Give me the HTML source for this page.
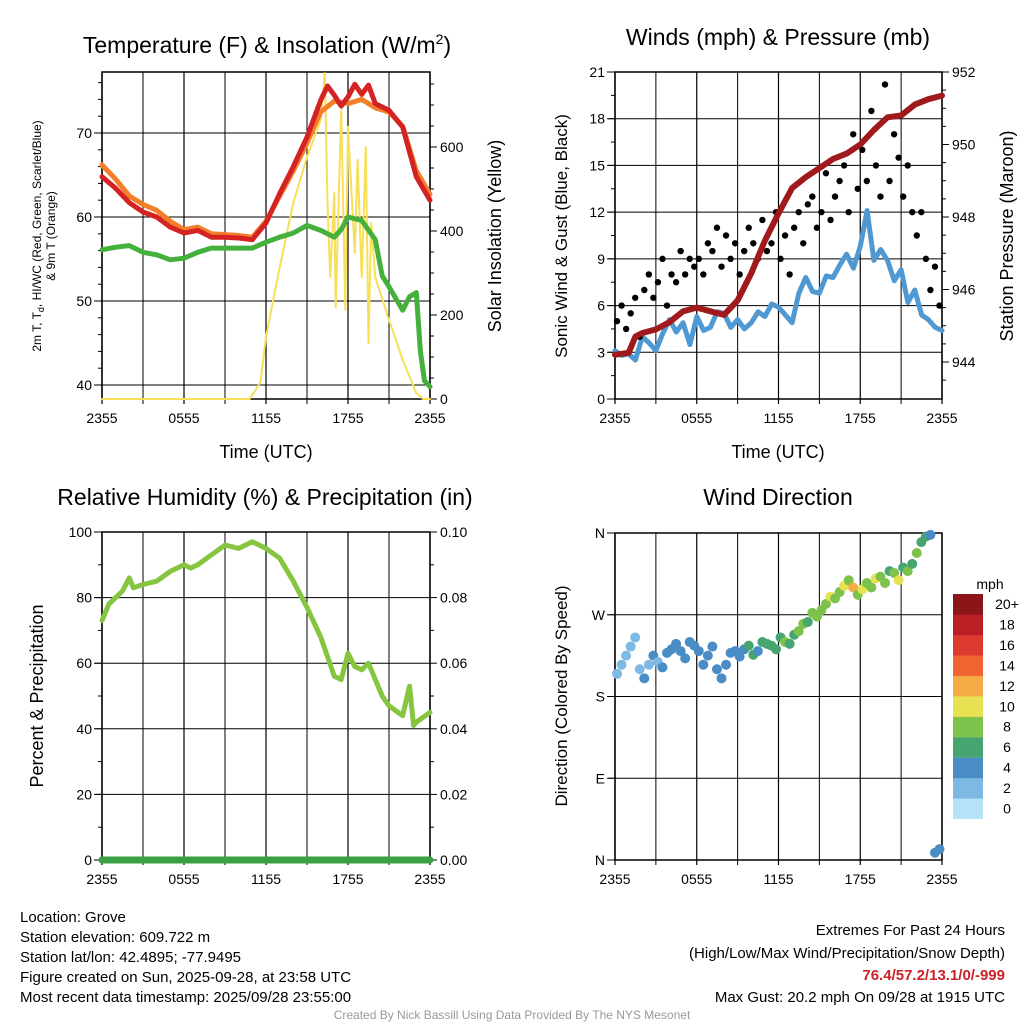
<!DOCTYPE html>
<html><head><meta charset="utf-8"><style>
body{margin:0;background:#fff;}
svg{font-family:"Liberation Sans",sans-serif;}
</style></head><body>
<svg id="c" width="1024" height="1024" viewBox="0 0 1024 1024" xmlns="http://www.w3.org/2000/svg">
<g font-size="23" text-anchor="middle">
<text x="267" y="53">Temperature (F) &amp; Insolation (W/m<tspan dy="-9" font-size="14">2</tspan><tspan dy="9">)</tspan></text>
<text x="778" y="45">Winds (mph) &amp; Pressure (mb)</text>
<text x="265" y="505">Relative Humidity (%) &amp; Precipitation (in)</text>
<text x="778" y="505">Wind Direction</text>
</g>
<g font-size="18" text-anchor="middle">
<text x="266" y="458">Time (UTC)</text>
<text x="778" y="458">Time (UTC)</text>
<text transform="translate(501,236) rotate(-90)">Solar Insolation (Yellow)</text>
<text transform="translate(567,236) rotate(-90)" font-size="17">Sonic Wind &amp; Gust (Blue, Black)</text>
<text transform="translate(1013,236) rotate(-90)">Station Pressure (Maroon)</text>
<text transform="translate(43,696) rotate(-90)">Percent &amp; Precipitation</text>
<text transform="translate(567,696) rotate(-90)" font-size="17">Direction (Colored By Speed)</text>
<text transform="translate(41,236) rotate(-90)" font-size="12">2m T, T<tspan font-size="9" dy="3">d</tspan><tspan dy="-3">, HI/WC (Red, Green, Scarlet/Blue)</tspan></text>
<text transform="translate(55,236) rotate(-90)" font-size="12">&amp; 9m T (Orange)</text>
</g>
<g font-size="15">
<text x="20" y="922">Location: Grove</text>
<text x="20" y="942">Station elevation: 609.722 m</text>
<text x="20" y="962">Station lat/lon: 42.4895; -77.9495</text>
<text x="20" y="982">Figure created on Sun, 2025-09-28, at 23:58 UTC</text>
<text x="20" y="1002">Most recent data timestamp: 2025/09/28 23:55:00</text>
</g>
<g font-size="15" text-anchor="end">
<text x="1005" y="935">Extremes For Past 24 Hours</text>
<text x="1005" y="958">(High/Low/Max Wind/Precipitation/Snow Depth)</text>
<text x="1005" y="980" fill="#cc2127" font-weight="bold">76.4/57.2/13.1/0/-999</text>
<text x="1005" y="1002">Max Gust: 20.2 mph On 09/28 at 1915 UTC</text>
</g>
<text x="512" y="1019" font-size="12" fill="#999" text-anchor="middle">Created By Nick Bassill Using Data Provided By The NYS Mesonet</text>
</svg>
<script>
// ---- data ----
const xTickLabels=["2355","0555","1155","1755","2355"];
const redT=[0,1,2,3,4,5,6,7,8,9,10,11,12,13,14,15,16,16.5,17,17.5,18,18.5,19,19.5,20,21,22,23,24];
const redV=[64.8,63.4,61.7,60.6,60,58.8,58.1,58.4,57.6,57.6,57.5,57.3,59.3,62.8,66,69.5,73.9,75.6,74.5,73.2,74.3,75.8,74.6,75.7,73.5,72.7,70.7,64.8,62];
const orangeT=[0,1,2,3,4,5,6,7,8,9,10,11,12,13,14,15,16,17,18,19,20,21,22,23,24];
const orangeV=[66.2,64.5,62.5,61.5,60.8,59.5,58.5,58.8,58,57.9,57.8,57.6,59.5,62.5,65.5,68.8,72.5,73.8,73.5,74,73,72.5,70.8,65.5,62.7];
const greenT=[0,1,2,3,4,5,6,7,8,9,10,11,12,13,14,15,16,17,17.5,18,19,20,20.5,21,22,22.5,23,23.3,23.6,24];
const greenV=[56.1,56.4,56.6,55.8,55.5,54.9,55.1,55.8,56.3,56.3,56.3,56.3,57,57.6,58.1,59,58.4,57.6,58.5,60,59.6,57.3,53,51.7,48.9,50.5,51,44,40.5,39.8];
const solarT=[0,10.8,11.3,11.6,12,13,14,15,16,16.3,16.5,16.7,17,17.1,17.5,17.8,18,18.5,18.7,19,19.3,19.5,19.7,20,21,22,23,23.5,24];
const solarV=[0,0,25,40,148,314,467,576,664,776,467,290,490,219,688,212,648,348,569,290,600,133,419,290,188,93,14,0,0];
const windT=[0,0.5,1,1.5,2,2.5,3,3.5,4,4.5,5,5.5,6,6.5,7,7.5,8,8.5,9,9.5,10,10.5,11,11.5,12,12.5,13,13.5,14,14.5,15,15.5,16,16.5,17,17.5,18,18.5,19,19.5,20,20.5,21,21.5,22,22.5,23,23.5,24];
const windV=[3.1,2.8,2.9,2.5,4,3.6,3.1,4.2,5.1,4.3,4.9,3.5,5.3,4.4,4.6,5.6,5.5,4.6,5.1,4.5,4.9,5.6,5.3,6.1,5.9,5.4,4.9,6.8,7.8,6.9,6.8,7.9,7.8,8.6,9.3,8.4,9.8,12.1,8.9,9.6,8.9,7.6,8.3,6.2,7,5.4,5.1,4.6,4.4];
const presT=[0,1,1.5,2,3,4,5,6,7,8,9,10,11,12,13,14,15,16,17,18,19,20,21,22,23,24];
const presV=[944.2,944.25,944.7,944.8,944.9,945.1,945.4,945.5,945.4,945.3,945.7,946.45,947.35,948.1,948.8,949.1,949.35,949.6,949.75,950,950.4,950.75,950.8,951.1,951.25,951.35];
const gustV=[5,6,4.5,5.5,6.5,4,7,8,6.5,7.5,9,6,8,7.5,9.5,8,9,8.5,9,8,10,9.5,11,8.5,10.5,9,10,8,9.5,11,10,9,11.5,9.5,10,12,9,10.5,8,11,12,10,12.5,13,11,12,14.5,11.5,13,14,15,12,17,13.5,16,14,18.5,15,13,20.2,14,17,15.5,13,15,12,10.5,12,9,7,8.5,6];
const rhT=[0,0.5,1,1.5,2,2.3,3,4,5,6,6.5,7,8,9,10,11,12,13,14,15,16,16.5,17,17.5,18,18.5,19,19.5,20,20.5,21,22,22.5,22.8,23,24];
const rhV=[73,78,80,82,86,83,84,85,88,90,89,90,93,96,95,97,95,92,85,77,68,62,56,55,63,59,58,60,55,50,47,44,53,41,42,45];
const precipT=[0,24];
const precipV=[0,0];
const dirV=[205,215,225,235,245,210,200,215,225,218,212,228,232,238,230,222,240,236,230,215,225,235,210,200,215,228,230,224,232,236,226,230,240,238,236,232,245,240,238,248,252,260,262,272,268,275,282,290,288,295,302,308,300,292,298,305,300,310,312,305,318,316,308,322,318,326,338,350,356,358,8,12];
const dirS=[3,2.5,3,2.6,3.4,3.2,4.2,3.8,4.5,3.5,4.2,4.6,4.4,5,4.8,4.2,4.5,5.2,4.6,5,4.7,4.4,5.1,4.8,4.6,5.4,5.2,4.9,5.6,6.2,6.4,5.5,6.8,6.3,6.6,7.2,7.5,8.1,7.8,6.5,8.4,8.8,7.6,9.2,8.6,9.4,8.2,10.2,9.1,8.4,10.6,9.8,12.2,8.7,10.4,9.2,8.4,10.8,9.6,8.5,7.4,8.6,10.3,7.2,8.1,6.6,8.4,7.3,6.5,4.6,4.2,4.8];
const legendLabels=["0","2","4","6","8","10","12","14","16","18","20+"];
const legendColors=["#b6e3f7","#7db9e3","#4a8dc6","#46a571","#7dc24b","#e6e251","#f6aa45","#ef6430","#dc3a2e","#bb1e24","#8c1519"];
// ---- drawing ----
const NS="http://www.w3.org/2000/svg";const svg=document.getElementById('c');
function mk(tag,attrs,parent){const e=document.createElementNS(NS,tag);for(const k in attrs)e.setAttribute(k,attrs[k]);(parent||svg).appendChild(e);return e;}
function lin(d0,d1,r0,r1){return v=>r0+(v-d0)/(d1-d0)*(r1-r0);}
function panel(name,x0,x1,y0,y1){
  const g=mk('g',{});
  
  
  const xs=lin(0,24,x0,x1);
  for(let h=0;h<=24;h+=3){const X=xs(h);
    const l=mk('line',{x1:X,x2:X,y1:y0,y2:y1+5,stroke:'#000','stroke-width':h%6==0?1.2:1},g);
    
    }
  xTickLabels.forEach((s,i)=>{const t=mk('text',{x:xs(i*6),y:y1+24,'font-size':14,'text-anchor':'middle'},g);t.textContent=s;
    
    });
  const b=mk('rect',{x:x0,y:y0,width:x1-x0,height:y1-y0,fill:'none',stroke:'#000','stroke-width':1.5},g);
  
  
  return {g,xs};
}
function yaxis(g,x0,x1,ys,ticks,labels,side,minors,grid){
  ticks.forEach((v,i)=>{const Y=ys(v);
    if(grid){const l=mk('line',{x1:x0-(side=='left'?8:0),x2:x1,y1:Y,y2:Y,stroke:'#000','stroke-width':1},g);
      
      }
    const X=side=='left'?x0:x1;
    mk('line',{x1:X,x2:side=='left'?X-7:X+7,y1:Y,y2:Y,stroke:'#000'},g);
    const t=mk('text',{x:side=='left'?X-10:X+10,y:Y+5,'font-size':14,'text-anchor':side=='left'?'end':'start'},g);t.textContent=labels[i];
    
    });
  (minors||[]).forEach(v=>{const Y=ys(v);const X=side=='left'?x0:x1;mk('line',{x1:X,x2:side=='left'?X-4:X+4,y1:Y,y2:Y,stroke:'#000'},g);});
}
function path(g,xs,ys,T,V,color,w,name){
  const d=T.map((t,i)=>(i?'L':'M')+xs(t).toFixed(1)+','+ys(V[i]).toFixed(1)).join('');
  const p=mk('path',{d,fill:'none',stroke:color,'stroke-width':w,'stroke-linejoin':'round','stroke-linecap':'round'},g);
  
  
}
// Panel 1
let P=panel('temperature-panel',102,430,72,399);
let yT=lin(40,70,385,133), yS=lin(0,600,399,147);
yaxis(P.g,102,430,yT,[40,50,60,70],['40','50','60','70'],'left',[42,44,46,48,52,54,56,58,62,64,66,68,72,74,76],true);
yaxis(P.g,102,430,yS,[0,200,400,600],['0','200','400','600'],'right',[50,100,150,250,300,350,450,500,550,650,700,750],false);
path(P.g,P.xs,yS,solarT,solarV,'#f7df57',2,'solar-insolation-line');
path(P.g,P.xs,yT,greenT,greenV,'#45b03c',5,'dewpoint-line');
path(P.g,P.xs,yT,orangeT,orangeV,'#f47f2a',5,'temp-9m-line');
path(P.g,P.xs,yT,redT,redV,'#d42322',5,'temp-2m-line');
// Panel 2
P=panel('wind-panel',615,942,72,399);
let yW=lin(0,21,399,72), yP=lin(944,952,362,72);
yaxis(P.g,615,942,yW,[0,3,6,9,12,15,18,21],['0','3','6','9','12','15','18','21'],'left',[1.5,4.5,7.5,10.5,13.5,16.5,19.5],true);
yaxis(P.g,615,942,yP,[944,946,948,950,952],['944','946','948','950','952'],'right',[943.5,944.5,945,945.5,946.5,947,947.5,948.5,949,949.5,950.5,951,951.5],false);
path(P.g,P.xs,yW,windT,windV,'#4f98d2',5,'sonic-wind-line');
gustV.forEach((v,i)=>{const c=mk('circle',{cx:P.xs(i/3+0.15),cy:yW(v),r:3.2,fill:'#000'},P.g);
  
  });
path(P.g,P.xs,yP,presT,presV,'#a01a1d',6,'pressure-line');
// Panel 3
P=panel('humidity-panel',102,430,532,860);
let yR=lin(0,100,860,532);
yaxis(P.g,102,430,yR,[0,20,40,60,80,100],['0','20','40','60','80','100'],'left',[10,30,50,70,90],true);
yaxis(P.g,102,430,yR,[0,20,40,60,80,100],['0.00','0.02','0.04','0.06','0.08','0.10'],'right',[10,30,50,70,90],false);
path(P.g,P.xs,yR,rhT,rhV,'#86c540',5,'rh-line');
path(P.g,P.xs,yR,precipT,precipV,'#3aa043',7,'precip-line');
// Panel 4
P=panel('direction-panel',615,942,533,860);
let yD=lin(0,360,860,533);
yaxis(P.g,615,942,yD,[0,90,180,270,360],['N','E','S','W','N'],'left',[],true);
dirV.forEach((v,i)=>{const s=dirS[i];const c=mk('circle',{cx:P.xs(i/3+0.15),cy:yD(v),r:5,fill:legendColors[Math.min(10,Math.floor(s/2))]},P.g);
  
  });
const lg=mk('g',{});


const lt=mk('text',{x:990,y:589,'font-size':14,'text-anchor':'middle'},lg);lt.textContent='mph';
legendColors.forEach((c,i)=>{const y=594+(10-i)*20.45;
  const r=mk('rect',{x:953,y:y,width:30,height:20.6,fill:c},lg);
  
  
  const t=mk('text',{x:1007,y:y+15,'font-size':14,'text-anchor':'middle'},lg);t.textContent=legendLabels[i];
  
  });
</script>
</body></html>
